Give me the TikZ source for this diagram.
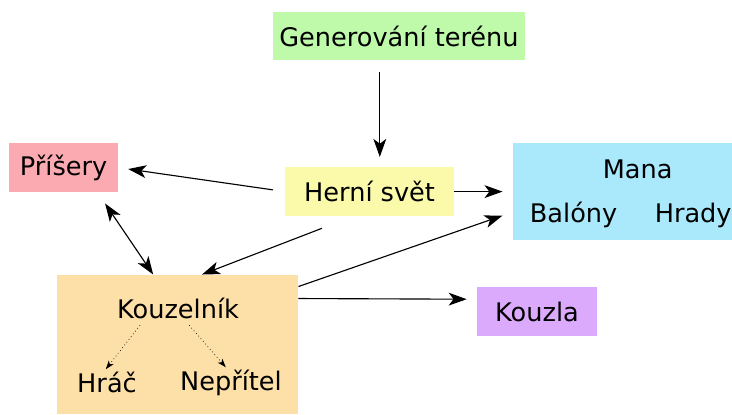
\documentclass[tikz,border=0pt]{standalone}
\usepackage{fontspec}
\setmainfont{DejaVu Sans}
\usetikzlibrary{arrows.meta}

\definecolor{terrain}{RGB}{190,250,170}
\definecolor{world}{RGB}{250,250,170}
\definecolor{monster}{RGB}{250,170,176}
\definecolor{res}{RGB}{170,232,252}
\definecolor{wizard}{RGB}{253,224,168}
\definecolor{spell}{RGB}{220,170,252}

\begin{document}
\begin{tikzpicture}[
    font=\fontsize{18.2}{21}\selectfont,
    block/.style={inner sep=0pt, minimum height=1.22cm},
    word/.style={inner sep=0pt, anchor=base},
    tip/.tip={Stealth[length=0.45cm, width=0.32cm, inset=0.12cm]},
    arr/.style={-tip, line width=0.8pt},
    link/.style={-{Stealth[length=0.22cm, width=0.15cm, inset=0.06cm]}, dotted, line width=0.5pt}
  ]
    \useasboundingbox (0,0) rectangle (18.3,-10.35);

    \node[block, fill=terrain, minimum width=6.3cm, minimum height=1.2cm] (gen) at (9.975,-0.9) {Generování terénu};
    \node[block, fill=world, minimum width=4.22cm]   (herni)   at (9.24,-4.79)  {Herní svět};
    \node[block, fill=monster, minimum width=2.72cm] (prisery) at (1.59,-4.19)  {Příšery};
    \node[block, fill=spell, minimum width=3.0cm]    (kouzla)  at (13.425,-7.79) {Kouzla};
    \node[block, fill=res, minimum width=5.48cm, minimum height=2.42cm] (mana) at (15.56,-4.79) {};
    \node[block, fill=wizard, minimum width=6.03cm, minimum height=3.48cm] (kouz) at (4.44,-8.61) {};

    % texts inside the two big boxes
    \node[word] (manatxt) at (15.94,-4.45)  {Mana};
    \node[word] (balony)  at (14.34,-5.55)  {Balóny};
    \node[word] (hrady)   at (17.33,-5.55)  {Hrady};
    \node[word] (kz)      at (4.45,-7.95)   {Kouzelník};
    \node[word] (hrac)    at (2.675,-9.8)   {Hráč};
    \node[word] (neprit)  at (5.775,-9.75)  {Nepřítel};

    \coordinate (g1) at ([xshift=-0.48cm,yshift=-0.3cm]gen.south);
    \draw[arr] (g1) -- ([yshift=0.25cm]g1 |- herni.north);
    \draw[arr, shorten <=0.3cm, shorten >=0.25cm] (herni.west) -- (prisery.east);
    \draw[arr, shorten >=0.25cm] (herni.east) -- (mana.west);
    \draw[arr] ([xshift=-1.19cm,yshift=-0.3cm]herni.south) -- ([xshift=0.61cm]kouz.north);
    \draw[arr, tip-tip] ([xshift=-0.33cm,yshift=-0.28cm]prisery.south east) -- ([xshift=-0.61cm]kouz.north);
    \draw[arr] ([yshift=-0.3cm]kouz.north east) -- ([xshift=-0.25cm,yshift=-0.6cm]mana.west);
    \draw[arr] ([yshift=-0.6cm]kouz.north east) -- ([xshift=-0.25cm,yshift=0.31cm]kouzla.west);

    \draw[link] ([xshift=-0.95cm,yshift=-0.18cm]kz.base) -- ([xshift=-0.03cm,yshift=0.05cm]hrac.north);
    \draw[link] ([xshift=0.28cm,yshift=-0.18cm]kz.base) -- ([xshift=-0.13cm,yshift=0.05cm]neprit.north);
  \end{tikzpicture}
\end{document}
